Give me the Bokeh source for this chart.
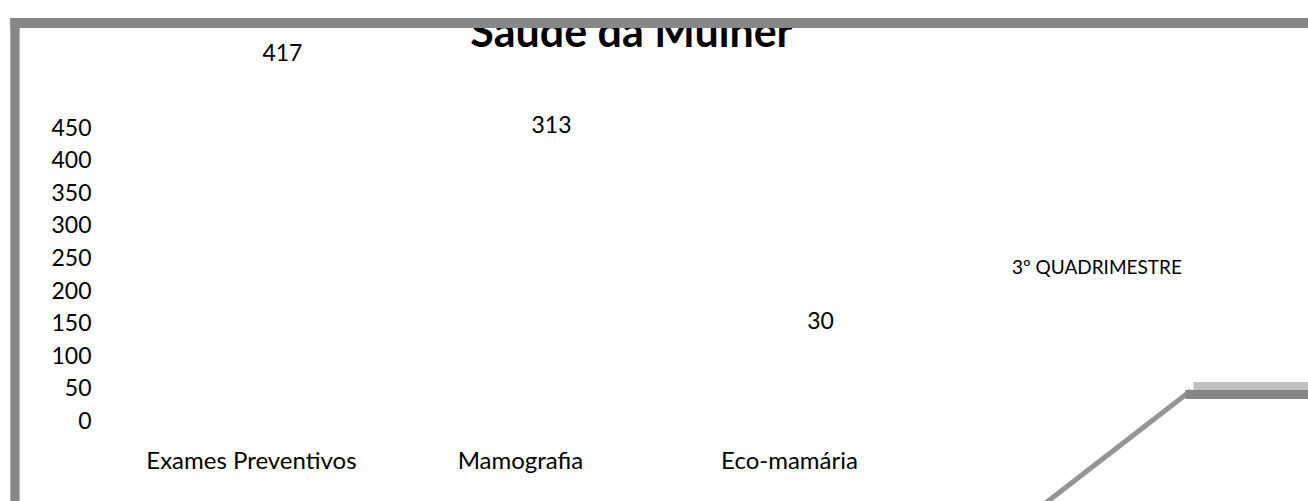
import math
from bokeh.plotting import figure
from bokeh.models import (ColumnDataSource, Range1d, FixedTicker, LabelSet, Label,
                          Legend, LegendItem)
from bokeh.core.properties import value
from bokeh.embed import file_html
from bokeh.resources import INLINE

# ---- data ----
title_text = "Saúde da Mulher"
categories = ["Exames Preventivos", "Mamografia", "Eco-mamária"]
values = [417, 313, 30]
series_name = "3º QUADRIMESTRE"
y_ticks = [0, 50, 100, 150, 200, 250, 300, 350, 400, 450]

FONT = "Lato"
GRAY = "#878787"
W, H = 1308, 501

p = figure(width=W, height=H, output_backend="svg", toolbar_location=None,
           x_range=Range1d(-0.561, 3.929), y_range=Range1d(0, 602.8),
           min_border_left=100, min_border_right=0, min_border_top=27,
           min_border_bottom=81)
p.outline_line_color = None
p.grid.visible = False
p.background_fill_color = "white"
p.border_fill_color = "white"

xs = list(range(len(categories)))
src = ColumnDataSource(dict(x=xs, top=values, label=[str(v) for v in values]))
bars = p.vbar(x="x", top="top", width=0.55, source=src,
              fill_color="white", line_color=None)

# data labels (placed through their own scale, as in the original render)
p.extra_y_ranges = {"lbl": Range1d(-114.7, 453.2)}
labels = LabelSet(x="x", y="top", text="label", source=src, y_range_name="lbl",
                  x_offset=31, text_align="center", text_baseline="middle",
                  text_font=value(FONT), text_font_size="23px", text_color="black")
p.add_layout(labels)

# axes
p.xaxis.ticker = FixedTicker(ticks=xs)
p.xaxis.major_label_overrides = {i: c for i, c in enumerate(categories)}
p.yaxis.ticker = FixedTicker(ticks=y_ticks)
for ax in (p.xaxis[0], p.yaxis[0]):
    ax.axis_line_color = None
    ax.major_tick_line_color = None
    ax.minor_tick_line_color = None
    ax.major_tick_out = 0
    ax.major_tick_in = 0
    ax.minor_tick_out = 0
    ax.minor_tick_in = 0
    ax.major_label_text_font = FONT
    ax.major_label_text_color = "black"
p.xaxis.major_label_text_font_size = "24px"
p.yaxis.major_label_text_font_size = "23px"
p.xaxis.major_label_standoff = 24
p.yaxis.major_label_standoff = 9

# legend (glyph is white, so only the text shows)
legend = Legend(items=[LegendItem(label=series_name, renderers=[bars])],
                location=(911, 142), glyph_width=1, glyph_height=24,
                label_height=24, label_standoff=0, padding=0, margin=0,
                border_line_color=None, background_fill_alpha=0,
                label_text_font=FONT, label_text_font_size="19px",
                label_text_color="black")
p.add_layout(legend)

# title: its upper part is hidden under the chart border, as in the original
title = Label(x=631, y=30, x_units="canvas", y_units="canvas", text=title_text,
              text_align="center", text_baseline="alphabetic",
              text_font=FONT, text_font_style="bold", text_font_size="43px",
              text_color="black", level="annotation")
p.add_layout(title)


# chart-area border of the original (drawn as filled boxes)
def bar_box(cx, cy, w, h, color, angle=0.0):
    hw, hh = w / 2.0, h / 2.0
    return Label(x=cx, y=cy, x_units="canvas", y_units="canvas", text=" ",
                 text_font_size="1px", text_align="center", text_baseline="middle",
                 angle=angle, background_fill_color=color, background_fill_alpha=1,
                 border_line_color=None, level="overlay",
                 padding=dict(left=int(math.floor(hw)), right=int(math.ceil(hw)),
                              top=int(math.floor(hh)), bottom=int(math.ceil(hh))))


p.add_layout(bar_box(14.5, 259.5, 9, 483, GRAY), "left")             # left edge
p.add_layout(bar_box(659, 22.5, 1298, 9, GRAY), "above")             # top edge
p.add_layout(bar_box(1250.5, 386, 115, 8, "#c0c0c0"))                # bottom-right (light)
p.add_layout(bar_box(1246.5, 394, 123, 8, GRAY))                     # bottom-right (dark)
p.add_layout(bar_box(1115, 448.5, 190, 4, "#959595",
                     angle=math.atan2(109, 141)), "below")           # diagonal

open("out.html", "w").write(file_html(p, INLINE))
